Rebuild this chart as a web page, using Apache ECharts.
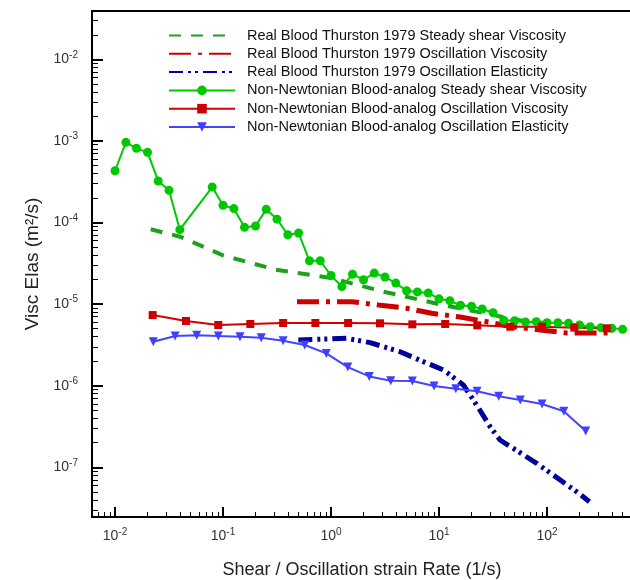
<!DOCTYPE html>
<html><head><meta charset="utf-8">
<script src="https://cdn.jsdelivr.net/npm/echarts@6/dist/echarts.min.js"></script>
<style>html,body{margin:0;padding:0;background:#fff}#c{width:630px;height:580px}</style>
</head><body><div id="c"></div>
<script>
// ---- Data ----
const seriesNames = [
  'Real Blood Thurston 1979 Steady shear Viscosity',
  'Real Blood Thurston 1979 Oscillation Viscosity',
  'Real Blood Thurston 1979 Oscillation Elasticity',
  'Non-Newtonian Blood-analog Steady shear Viscosity',
  'Non-Newtonian Blood-analog Oscillation Viscosity',
  'Non-Newtonian Blood-analog Oscillation Elasticity'
];

const realSteadyX = [0.0214, 0.04, 0.1, 0.3, 1, 3, 10, 30, 60, 95];
const realSteadyY = [8.26e-5, 6.70e-5, 3.96e-5, 2.66e-5, 2.09e-5, 1.43e-5, 1.00e-5, 7.46e-6, 6.21e-6, 5.87e-6];

const realOscViscX = [0.484, 1.09, 1.56, 2.74, 5.03, 8.56, 16.2, 27.7, 47.1, 86.1, 152, 397];
const realOscViscY = [1.07e-5, 1.07e-5, 1.07e-5, 9.75e-6, 8.89e-6, 7.71e-6, 6.89e-6, 6.08e-6, 5.28e-6, 4.82e-6, 4.43e-6, 4.43e-6];

const realOscElasX = [0.498, 1.40, 2.30, 4.35, 7.16, 11.0, 16.8, 22.3, 29.7, 36.7, 80.3, 188, 247];
const realOscElasY = [3.63e-6, 3.81e-6, 3.37e-6, 2.61e-6, 1.97e-6, 1.56e-6, 1.02e-6, 5.80e-7, 3.15e-7, 2.16e-7, 1.12e-7, 5.02e-8, 3.79e-8];

const nnSteadyX = [0.01, 0.0126, 0.0158, 0.02, 0.0251, 0.0316, 0.0398, 0.0794, 0.1, 0.126, 0.158, 0.2, 0.251, 0.316,
  0.398, 0.501, 0.631, 0.794, 1.0, 1.26, 1.58, 2.0, 2.51, 3.16, 3.98, 5.01, 6.31, 7.94, 10.0, 12.6, 15.8, 20.0,
  25.1, 31.6, 39.8, 50.1, 63.1, 79.4, 100, 126, 158, 200, 251, 316, 398, 501];
const nnSteadyY = [4.31e-4, 9.61e-4, 8.11e-4, 7.24e-4, 3.23e-4, 2.48e-4, 8.17e-5, 2.72e-4, 1.63e-4, 1.48e-4, 8.73e-5, 9.05e-5,
  1.45e-4, 1.10e-4, 7.08e-5, 7.43e-5, 3.40e-5, 3.40e-5, 2.24e-5, 1.64e-5, 2.32e-5, 1.99e-5, 2.40e-5, 2.15e-5, 1.81e-5,
  1.46e-5, 1.41e-5, 1.37e-5, 1.16e-5, 1.10e-5, 9.67e-6, 9.40e-6, 8.71e-6, 7.85e-6, 6.33e-6, 6.26e-6, 6.04e-6, 6.09e-6,
  5.91e-6, 5.91e-6, 5.82e-6, 5.55e-6, 5.29e-6, 5.14e-6, 5.05e-6, 4.91e-6];

const nnOscViscX = [0.0223, 0.0454, 0.0904, 0.179, 0.360, 0.716, 1.44, 2.84, 5.66, 11.4, 22.6, 45.7, 89.9, 179, 357];
const nnOscViscY = [7.34e-6, 6.21e-6, 5.55e-6, 5.71e-6, 5.87e-6, 5.87e-6, 5.87e-6, 5.82e-6, 5.65e-6, 5.71e-6, 5.49e-6,
  5.28e-6, 5.28e-6, 5.14e-6, 5.05e-6];

const nnOscElasX = [0.0226, 0.0360, 0.0570, 0.0904, 0.1435, 0.226, 0.360, 0.570, 0.904, 1.43, 2.26, 3.57, 5.66, 9.0,
  14.3, 22.5, 35.7, 56.6, 89.9, 143, 228];
const nnOscElasY = [3.46e-6, 4.06e-6, 4.15e-6, 4.06e-6, 3.98e-6, 3.87e-6, 3.56e-6, 3.15e-6, 2.49e-6, 1.69e-6, 1.30e-6,
  1.15e-6, 1.14e-6, 9.91e-7, 9.19e-7, 8.54e-7, 7.41e-7, 6.68e-7, 5.97e-7, 4.86e-7, 2.79e-7];

const xMajorTicks = [0.01, 0.1, 1, 10, 100];
const yMajorTicks = [1e-2, 1e-3, 1e-4, 1e-5, 1e-6, 1e-7];
const xTitle = 'Shear / Oscillation strain Rate (1/s)';
const yTitle = 'Visc Elas (m\u00B2/s)';

// ---- Layout / style ----
const X_MIN = 0.00612, X_MAX = 612;
const Y_MIN = 2.46e-8, Y_MAX = 0.0391;
const FONT = '"Liberation Sans", Arial, sans-serif';

function minorTicks(lo, hi) {
  const out = [];
  for (let e = -9; e <= 3; e++) {
    for (let m = 2; m <= 9; m++) {
      const v = m * Math.pow(10, e);
      if (v >= lo && v <= hi) out.push(v);
    }
  }
  return out;
}
const zip = (xs, ys) => xs.map((x, i) => [x, ys[i]]);
const powLabel = v => '{b|10}{s|' + Math.round(Math.log10(v)) + '}';
const richLab = {
  b: { fontSize: 14, fontFamily: FONT, color: '#333' },
  s: { fontSize: 10, fontFamily: FONT, color: '#333', padding: [0, 0, 9, 0] }
};
const noSymbol = { color: 'rgba(0,0,0,0)', borderWidth: 0, opacity: 0 };

const grid = {
  left: 92, top: 11, width: 540, height: 506, show: true, borderWidth: 2, borderColor: '#000',
  containLabel: false, outerBoundsMode: 'none'
};

const option = {
  backgroundColor: '#fff',
  animation: false,
  grid: grid,
  legend: {
    orient: 'vertical', left: 168, top: 28, padding: 0,
    itemWidth: 66, itemHeight: 12, itemGap: 3.3,
    textStyle: { fontFamily: FONT, fontSize: 14.5, color: '#111', padding: [0, 0, 0, 7] },
    data: [
      { name: seriesNames[0], itemStyle: noSymbol },
      { name: seriesNames[1], itemStyle: noSymbol },
      { name: seriesNames[2], itemStyle: noSymbol },
      { name: seriesNames[3] },
      { name: seriesNames[4] },
      { name: seriesNames[5] }
    ]
  },
  xAxis: [
    {
      type: 'log', min: X_MIN, max: X_MAX, position: 'bottom',
      name: xTitle, nameLocation: 'middle', nameGap: 44,
      nameTextStyle: { fontFamily: FONT, fontSize: 18, color: '#222' },
      axisLine: { show: true, lineStyle: { color: '#000', width: 2 } },
      axisTick: { show: true, inside: true, length: 10, lineStyle: { color: '#000', width: 2 }, customValues: xMajorTicks },
      axisLabel: { show: true, margin: 10, formatter: powLabel, rich: richLab, customValues: xMajorTicks },
      splitLine: { show: false }, minorTick: { show: false }
    },
    {
      type: 'log', min: X_MIN, max: X_MAX, position: 'bottom',
      axisLine: { show: false },
      axisTick: { show: true, inside: true, length: 5, lineStyle: { color: '#000', width: 1 }, customValues: minorTicks(X_MIN, X_MAX) },
      axisLabel: { show: false }, splitLine: { show: false }
    }
  ],
  yAxis: [
    {
      type: 'log', min: Y_MIN, max: Y_MAX, position: 'left',
      name: yTitle, nameLocation: 'middle', nameGap: 48,
      nameTextStyle: { fontFamily: FONT, fontSize: 19, color: '#222' },
      axisLine: { show: true, lineStyle: { color: '#000', width: 2 } },
      axisTick: { show: true, inside: true, length: 11, lineStyle: { color: '#000', width: 2 }, customValues: yMajorTicks },
      axisLabel: { show: true, margin: 14, formatter: powLabel, rich: richLab, customValues: yMajorTicks },
      splitLine: { show: false }, minorTick: { show: false }
    },
    {
      type: 'log', min: Y_MIN, max: Y_MAX, position: 'left',
      axisLine: { show: false },
      axisTick: { show: true, inside: true, length: 6, lineStyle: { color: '#000', width: 1 }, customValues: minorTicks(Y_MIN, Y_MAX) },
      axisLabel: { show: false }, splitLine: { show: false }
    }
  ],
  series: [
    {
      name: seriesNames[0], type: 'line', data: zip(realSteadyX, realSteadyY), symbol: 'none',
      lineStyle: { color: '#1f9e1f', width: 4, type: [12, 10] }, itemStyle: { color: '#1f9e1f' }
    },
    {
      name: seriesNames[1], type: 'line', data: zip(realOscViscX, realOscViscY), symbol: 'none',
      lineStyle: { color: '#cc0000', width: 5, type: [22, 7, 4, 7] }, itemStyle: { color: '#cc0000' }
    },
    {
      name: seriesNames[2], type: 'line', data: zip(realOscElasX, realOscElasY), symbol: 'none',
      lineStyle: { color: '#00009c', width: 5, type: [14, 5, 3, 4, 3, 5] }, itemStyle: { color: '#00009c' }
    },
    {
      name: seriesNames[3], type: 'line', data: zip(nnSteadyX, nnSteadyY), symbol: 'circle', symbolSize: 9,
      lineStyle: { color: '#00c800', width: 2 }, itemStyle: { color: '#00c800' }
    },
    {
      name: seriesNames[4], type: 'line', data: zip(nnOscViscX, nnOscViscY), symbol: 'rect', symbolSize: 8,
      lineStyle: { color: '#d40000', width: 2 }, itemStyle: { color: '#cc0000' }
    },
    {
      name: seriesNames[5], type: 'line', data: zip(nnOscElasX, nnOscElasY), symbol: 'triangle', symbolRotate: 180, symbolSize: 9,
      lineStyle: { color: '#4444ff', width: 2 }, itemStyle: { color: '#3f3fff' }
    }
  ]
};

const chart = echarts.init(document.getElementById('c'), null, { renderer: 'canvas' });
chart.setOption(option);
</script></body></html>
